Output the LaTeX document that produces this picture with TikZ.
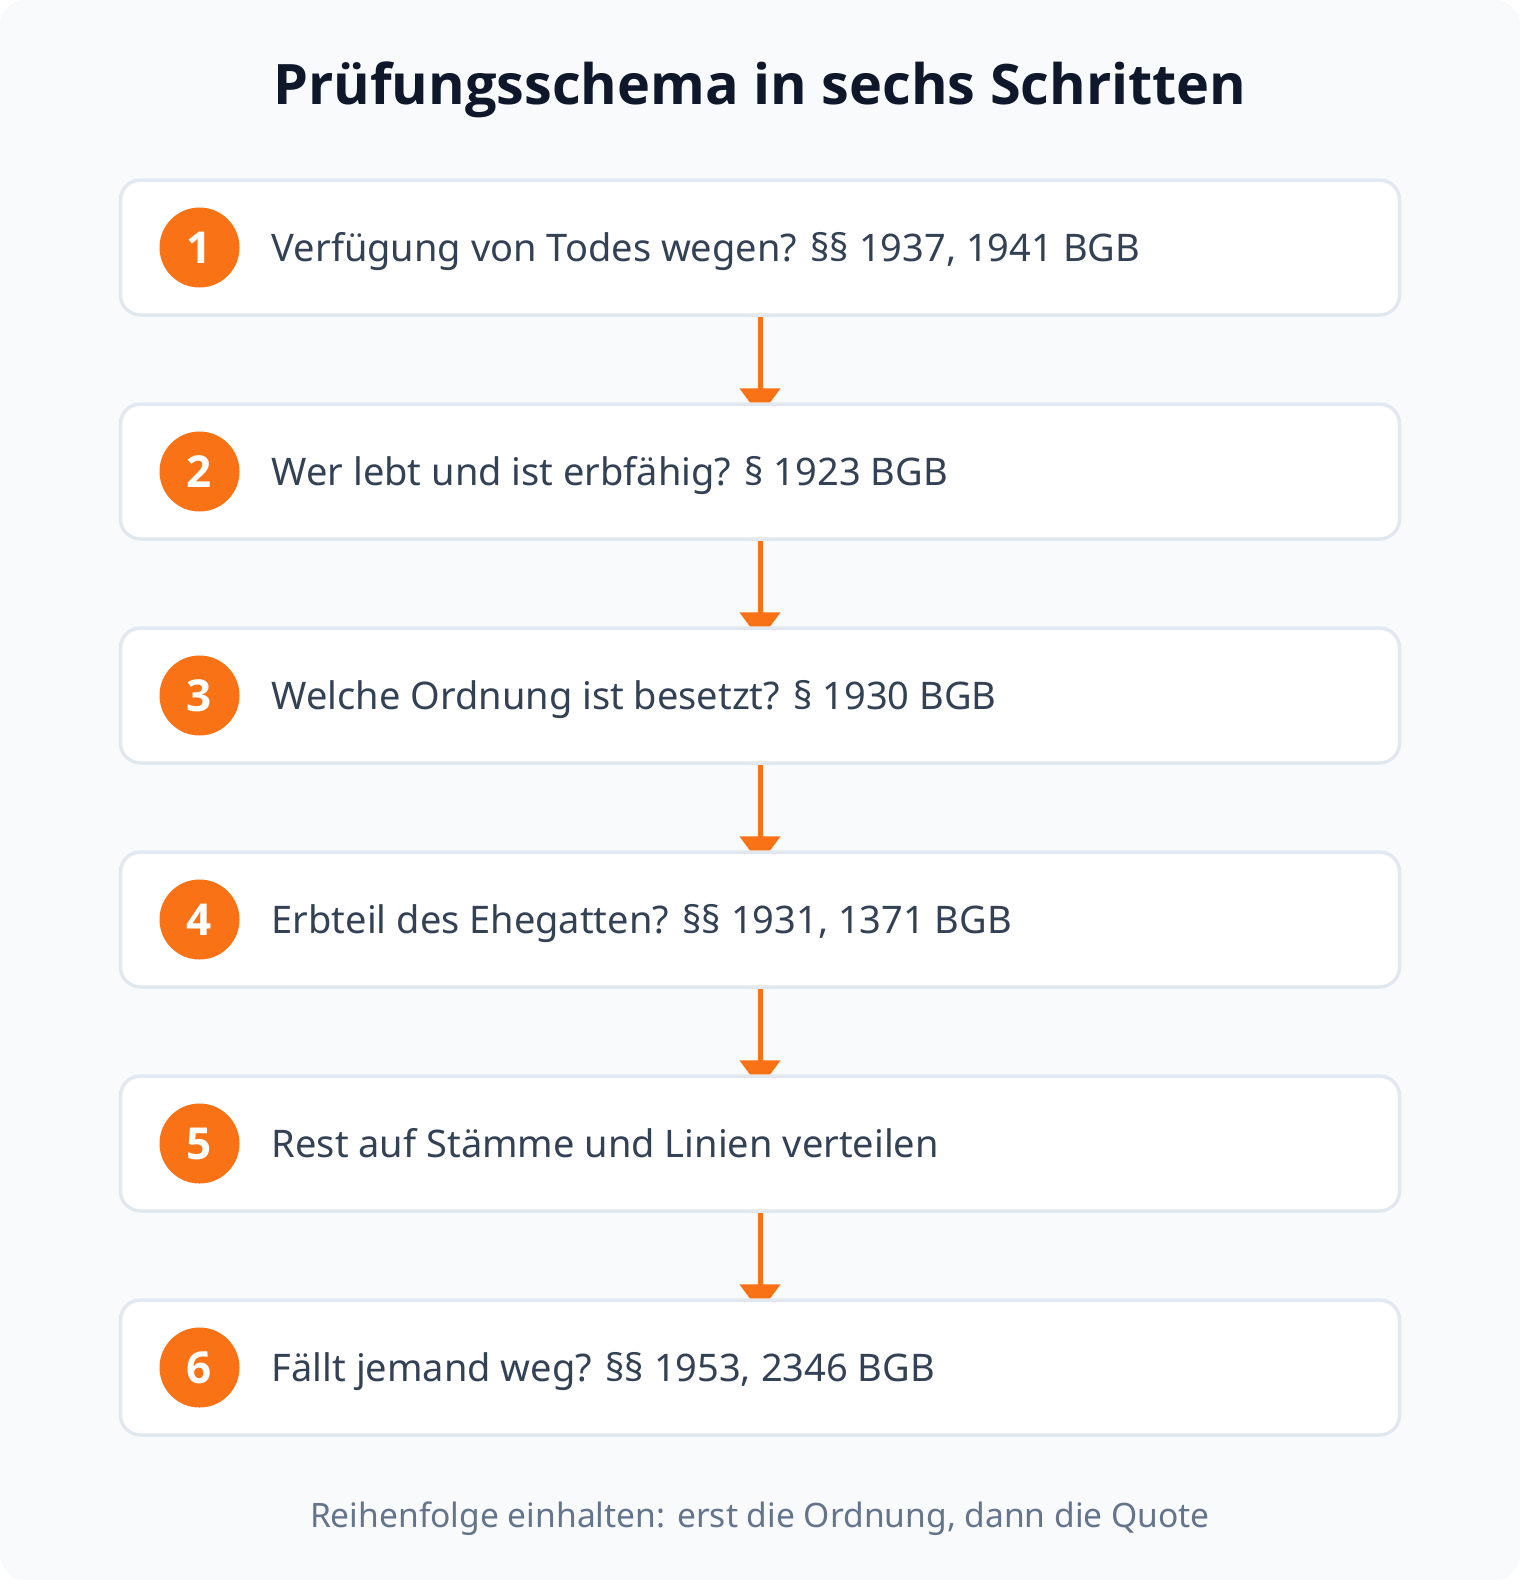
\documentclass[tikz,border=0pt]{standalone}
\usepackage{fontspec}
\setmainfont{Noto Sans}
\newfontfamily\headfont{Open Sans}
\usetikzlibrary{positioning,arrows.meta}
\definecolor{pagebg}{HTML}{F8FAFC}
\definecolor{boxline}{HTML}{E2E8F0}
\definecolor{accent}{HTML}{F97316}
\definecolor{steptext}{HTML}{334155}
\definecolor{titletext}{HTML}{0F172A}
\definecolor{notetext}{HTML}{64748B}
\pgfdeclarelayer{back}
\pgfdeclarelayer{links}
\pgfsetlayers{back,links,main}

\begin{document}
\begin{tikzpicture}[x=0.5pt, y=-0.5pt,
  stepbox/.style={draw=boxline, line width=1.75pt, fill=white, rounded corners=10pt,
    minimum width=639.5pt, minimum height=67.5pt, inner sep=0pt},
  badge/.style={circle, fill=accent, minimum size=40pt, inner sep=0pt, text=white,
    font=\headfont\fontsize{22}{22}\selectfont\bfseries, text height=15.7pt, text depth=0pt},
  steplabel/.style={right=15.75pt of #1, inner sep=0pt, text=steptext,
    font=\fontsize{19}{19}\selectfont, text height=13.6pt, text depth=0pt},
  flow/.style={draw=accent, line width=2.5pt, shorten >=-7pt,
    -{Triangle[width=20pt, length=14pt]}}]
\begin{pgfonlayer}{back}
\fill[white] (0,0) rectangle (1520,1580);
\fill[pagebg, rounded corners=13pt] (0,0) rectangle (1520,1580);
\end{pgfonlayer}
\node[anchor=base, text=titletext, font=\headfont\fontsize{27.9}{27.9}\selectfont\bfseries] (title) at (760,104) {Prüfungsschema in sechs Schritten};
% Schritte
\node[stepbox] (s1) at (760,247.5) {};
\node[badge] (n1) at (199.5,247.5) {1};
\node[steplabel=n1] (t1) {Verfügung von Todes wegen? §§ 1937, 1941 BGB};
\node[stepbox] (s2) at (760,471.5) {};
\node[badge] (n2) at (199.5,471.5) {2};
\node[steplabel=n2] (t2) {Wer lebt und ist erbfähig? § 1923 BGB};
\node[stepbox] (s3) at (760,695.5) {};
\node[badge] (n3) at (199.5,695.5) {3};
\node[steplabel=n3] (t3) {Welche Ordnung ist besetzt? § 1930 BGB};
\node[stepbox] (s4) at (760,919.5) {};
\node[badge] (n4) at (199.5,919.5) {4};
\node[steplabel=n4] (t4) {Erbteil des Ehegatten? §§ 1931, 1371 BGB};
\node[stepbox] (s5) at (760,1143.5) {};
\node[badge] (n5) at (199.5,1143.5) {5};
\node[steplabel=n5] (t5) {Rest auf Stämme und Linien verteilen};
\node[stepbox] (s6) at (760,1367.5) {};
\node[badge] (n6) at (199.5,1367.5) {6};
\node[steplabel=n6] (t6) {Fällt jemand weg? §§ 1953, 2346 BGB};
% Pfeile
\begin{pgfonlayer}{links}
\draw[flow] (s1.south) -- (s2.north);
\draw[flow] (s2.south) -- (s3.north);
\draw[flow] (s3.south) -- (s4.north);
\draw[flow] (s4.south) -- (s5.north);
\draw[flow] (s5.south) -- (s6.north);
\end{pgfonlayer}
\node[anchor=base, text=notetext, font=\fontsize{16.8}{16.8}\selectfont] (note) at (760,1527) {Reihenfolge einhalten: erst die Ordnung, dann die Quote};
\end{tikzpicture}
\end{document}
